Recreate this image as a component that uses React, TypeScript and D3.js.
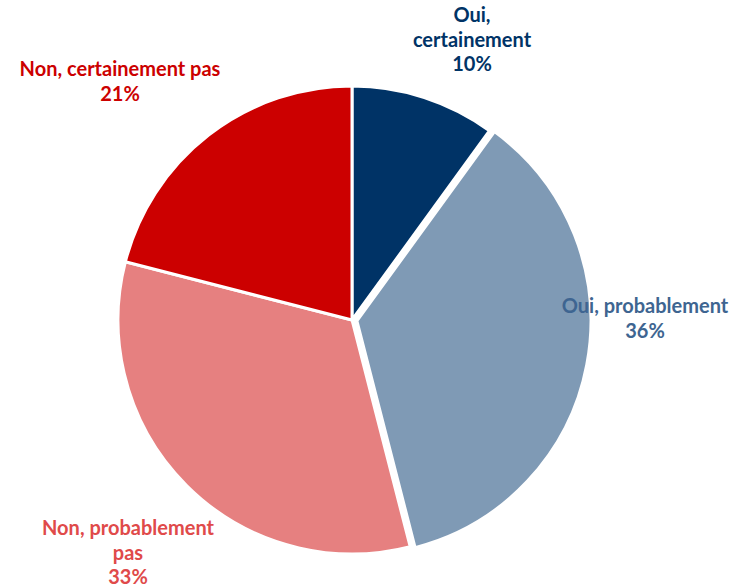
import React from "react";
import * as d3 from "d3";

const categories = ["Oui, certainement", "Oui, probablement", "Non, probablement pas", "Non, certainement pas"];
const values = [10, 36, 33, 21];
const sliceColors = ["#003366", "#7F9AB5", "#E68080", "#CC0000"];
const labelColors = ["#003366", "#3E6591", "#E04A4A", "#CC0000"];
const labelLines = [
  ["Oui,", "certainement", "10%"],
  ["Oui, probablement", "36%"],
  ["Non, probablement", "pas", "33%"],
  ["Non, certainement pas", "21%"],
];
const explode = [0, 5, 0, 0];

const W = 750, H = 587;
const cx = 352, cy = 320, R = 234;
const labelPos: [number, number][] = [
  [472, 22],
  [645, 313],
  [128, 535],
  [120, 76],
];

export default function App() {
  const pie = d3.pie<number>().sort(null).value((d) => d);
  const arcs = pie(values);
  const arcGen = d3.arc<d3.PieArcDatum<number>>().innerRadius(0).outerRadius(R);
  return (
    <svg width={W} height={H} style={{ position: "absolute", left: 0, top: 0 }}>
      <g transform={`translate(${cx},${cy})`}>
        {arcs.map((a, i) => {
          const mid = (a.startAngle + a.endAngle) / 2;
          const dx = explode[i] * Math.sin(mid);
          const dy = -explode[i] * Math.cos(mid);
          return (
            <path
              key={i}
              d={arcGen(a) || ""}
              transform={`translate(${dx},${dy})`}
              fill={sliceColors[i]}
              stroke="#fff"
              strokeWidth={3}
              strokeLinejoin="round"
            />
          );
        })}
      </g>
      {labelLines.map((lines, i) => (
        <text
          key={i}
          x={labelPos[i][0]}
          y={labelPos[i][1]}
          fill={labelColors[i]}
          fontFamily="Lato, 'Open Sans', sans-serif"
          fontWeight="bold"
          fontSize={20}
          textAnchor="middle"
        >
          {lines.map((l, j) => (
            <tspan key={j} x={labelPos[i][0]} dy={j === 0 ? 0 : 24.5}>
              {l}
            </tspan>
          ))}
        </text>
      ))}
    </svg>
  );
}
